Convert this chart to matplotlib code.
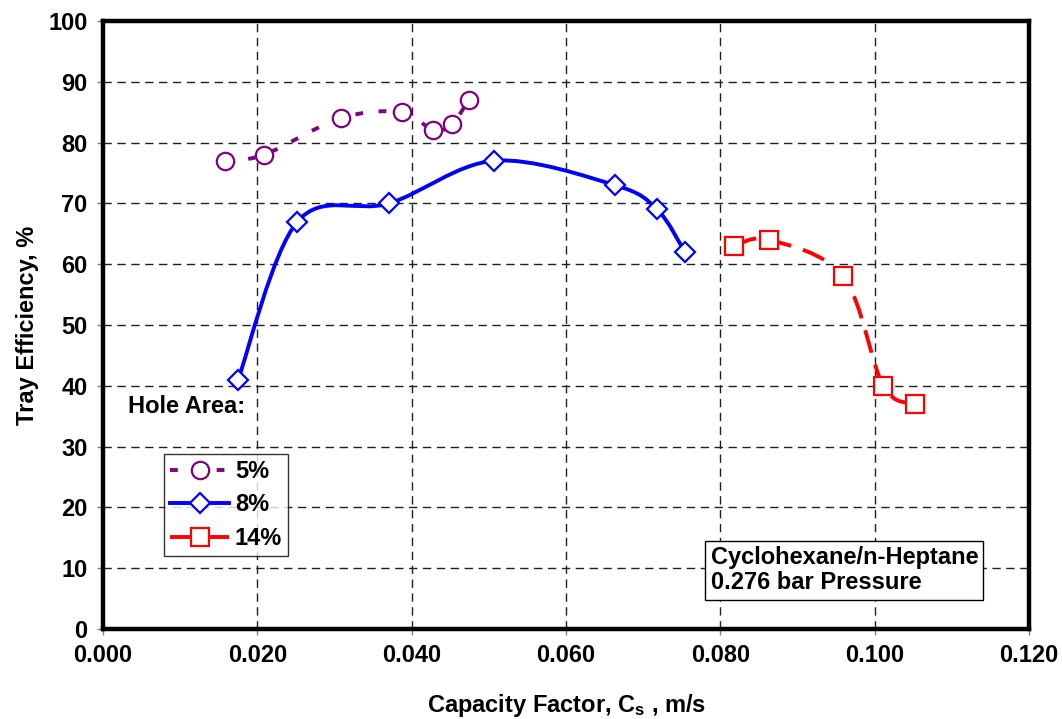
import matplotlib
matplotlib.use('Agg')
import matplotlib.pyplot as plt
from matplotlib.path import Path
from matplotlib.patches import PathPatch
from matplotlib.lines import Line2D
from matplotlib.ticker import FormatStrFormatter
import numpy as np

plt.rcParams['font.family'] = ['Liberation Sans', 'DejaVu Sans']
plt.rcParams['font.weight'] = 'bold'
plt.rcParams['mathtext.fontset'] = 'custom'
plt.rcParams['mathtext.rm'] = 'Liberation Sans:bold'
plt.rcParams['mathtext.it'] = 'Liberation Sans:bold'
plt.rcParams['mathtext.default'] = 'rm'

# data
cs_5 = [0.0158, 0.0209, 0.0308, 0.0387, 0.0428, 0.0452, 0.0474]
eff_5 = [77, 78, 84, 85, 82, 83, 87]

cs_8 = [0.0175, 0.0252, 0.0371, 0.0507, 0.0663, 0.0718, 0.0754]
eff_8 = [41, 67, 70, 77, 73, 69, 62]

cs_14 = [0.0818, 0.0863, 0.0959, 0.1011, 0.1052]
eff_14 = [63, 64, 58, 40, 37]

series = [
    ('5%', cs_5, eff_5, '#800080', 'o', (2.0, 4.0), 12.5),
    ('8%', cs_8, eff_8, '#0000FF', 'D', None, 10.5),
    ('14%', cs_14, eff_14, '#FF0000', 's', (6.0, 3.2), 12.5),
]
FS = 17


def smooth_path(x, y):
    """Excel-like smoothed line as cubic bezier segments (Catmull-Rom)."""
    pts = np.column_stack([x, y]).astype(float)
    n = len(pts)
    verts = [pts[0]]
    codes = [Path.MOVETO]
    for i in range(n - 1):
        p0 = pts[max(i - 1, 0)]
        p1 = pts[i]
        p2 = pts[i + 1]
        p3 = pts[min(i + 2, n - 1)]
        c1 = p1 + (p2 - p0) / 6.0
        c2 = p2 - (p3 - p1) / 6.0
        verts += [c1, c2, p2]
        codes += [Path.CURVE4] * 3
    return Path(verts, codes)


fig, ax = plt.subplots(figsize=(10.62, 7.19), dpi=100)
fig.subplots_adjust(left=0.097, right=0.969, bottom=0.125, top=0.971)

handles = []
for label, xs, ys, color, marker, dash, ms in series:
    patch = PathPatch(smooth_path(xs, ys), facecolor='none', edgecolor=color,
                      lw=2.8, zorder=3, capstyle='butt')
    if dash is not None:
        patch.set_linestyle((0, dash))
    ax.add_patch(patch)
    ax.plot(xs, ys, linestyle='none', marker=marker, ms=ms, mfc='white',
            mec=color, mew=1.6, zorder=4)
    h = Line2D([], [], color=color, lw=2.8, marker=marker, ms=ms,
               mfc='white', mec=color, mew=1.6)
    if dash is not None:
        h.set_dashes(dash)
    handles.append((h, label))

ax.set_xlim(0, 0.12)
ax.set_ylim(0, 100)
ax.set_xticks(np.arange(0, 0.1201, 0.02))
ax.set_yticks(np.arange(0, 101, 10))
ax.xaxis.set_major_formatter(FormatStrFormatter('%.3f'))
ax.tick_params(labelsize=FS, length=4, width=1, color='#808080', pad=7)
for lbl in ax.get_xticklabels() + ax.get_yticklabels():
    lbl.set_fontweight('bold')

ax.grid(True, color='#202020', lw=1, linestyle=(0, (6, 4)))
ax.set_axisbelow(True)
for sp in ax.spines.values():
    sp.set_linewidth(3.2)
    sp.set_color('black')

ax.set_xlabel('Capacity Factor, C$_s$ , m/s', fontsize=FS, fontweight='bold', labelpad=18)
ax.set_ylabel('Tray Efficiency, %', fontsize=FS, fontweight='bold', labelpad=7)

ax.text(0.027, 0.366, 'Hole Area:', transform=ax.transAxes, fontsize=FS,
        fontweight='bold', va='center', ha='left')

leg = ax.legend([h for h, _ in handles], [l for _, l in handles],
                loc='upper left', bbox_to_anchor=(0.066, 0.288), fontsize=FS,
                frameon=True, fancybox=False, edgecolor='black',
                handlelength=2.5, borderpad=0.25, labelspacing=0.45,
                handletextpad=0.25, borderaxespad=0)
leg.get_frame().set_linewidth(1)
for t in leg.get_texts():
    t.set_fontweight('bold')

ax.text(0.656, 0.097, 'Cyclohexane/n-Heptane\n0.276 bar Pressure',
        transform=ax.transAxes, fontsize=FS, fontweight='bold', va='center',
        ha='left', linespacing=1.15,
        bbox=dict(boxstyle='square,pad=0.22', fc='white', ec='black', lw=1))

fig.savefig('out.png', dpi=100)
